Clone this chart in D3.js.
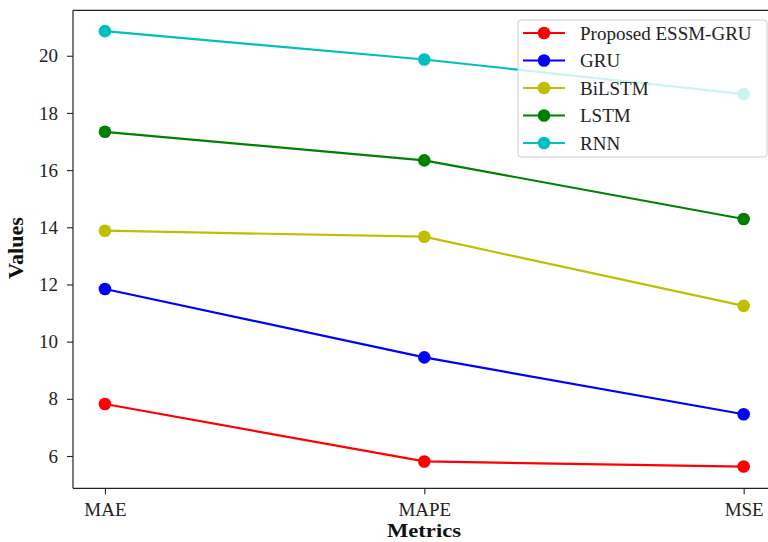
<!DOCTYPE html>
<html>
<head>
<meta charset="utf-8">
<script src="https://cdn.jsdelivr.net/npm/d3@7"></script>
<style>
  html, body { margin: 0; padding: 0; background: #fff; }
  svg { display: block; font-family: "Liberation Serif", "Times New Roman", serif; }
</style>
</head>
<body>
<svg id="chart" width="768" height="542"></svg>
<script>
// Error metrics per model
const metrics = ["MAE", "MAPE", "MSE"];
const seriesNames = ["Proposed ESSM-GRU", "GRU", "BiLSTM", "LSTM", "RNN"];
const proposedValues = [7.82, 5.81, 5.63];
const gruValues = [11.84, 9.45, 7.46];
const bilstmValues = [13.88, 13.67, 11.25];
const lstmValues = [17.34, 16.34, 14.29];
const rnnValues = [20.86, 19.87, 18.66];
const yTicks = [6, 8, 10, 12, 14, 16, 18, 20];
const colors = ["#ff0000", "#0000ff", "#bfbf00", "#008000", "#00bfbf"];

const series = [proposedValues, gruValues, bilstmValues, lstmValues, rnnValues]
  .map((vals, i) => ({ name: seriesNames[i], color: colors[i], values: vals }));

const svg = d3.select("#chart");
const plotLeft = 73, plotRight = 775.6, plotTop = 10.3, plotBottom = 488.3;

const x = d3.scaleLinear().domain([-0.1, 2.1]).range([plotLeft, plotRight]);
const y = d3.scaleLinear().domain([4.87, 21.59]).range([plotBottom, plotTop]);

// axes frame
const frame = svg.append("g").attr("fill", "none").attr("stroke", "#222").attr("stroke-width", 1.2);
frame.append("line").attr("x1", plotLeft).attr("x2", plotLeft).attr("y1", plotTop).attr("y2", plotBottom);
frame.append("line").attr("x1", plotLeft).attr("x2", plotRight).attr("y1", plotBottom).attr("y2", plotBottom);
frame.append("line").attr("x1", plotLeft).attr("x2", plotRight).attr("y1", plotTop).attr("y2", plotTop);
frame.append("line").attr("x1", plotRight).attr("x2", plotRight).attr("y1", plotTop).attr("y2", plotBottom);

// y axis
const yAxis = d3.axisLeft(y).tickValues(yTicks).tickSize(6).tickPadding(9).tickFormat(d3.format("d"));
const gy = svg.append("g").attr("transform", `translate(${plotLeft},0)`).call(yAxis);
gy.select(".domain").remove();
gy.selectAll(".tick line").attr("stroke", "#222").attr("stroke-width", 1.1);
gy.selectAll(".tick text").attr("font-size", 19).attr("fill", "#222")
  .attr("font-family", "Liberation Serif, serif");

// x axis
const xAxis = d3.axisBottom(x).tickValues([0, 1, 2]).tickSize(6).tickPadding(8)
  .tickFormat(i => metrics[i]);
const gx = svg.append("g").attr("transform", `translate(0,${plotBottom})`).call(xAxis);
gx.select(".domain").remove();
gx.selectAll(".tick line").attr("stroke", "#222").attr("stroke-width", 1.1);
gx.selectAll(".tick text").attr("font-size", 19).attr("fill", "#222")
  .attr("font-family", "Liberation Serif, serif");

// axis titles
svg.append("text").attr("x", 424).attr("y", 537).attr("text-anchor", "middle")
  .attr("font-size", 19).attr("font-weight", "bold").attr("fill", "#111")
  .attr("textLength", 74).attr("lengthAdjust", "spacingAndGlyphs").text("Metrics");
svg.append("text").attr("transform", "translate(23,248) rotate(-90)").attr("text-anchor", "middle")
  .attr("font-size", 20).attr("font-weight", "bold").attr("fill", "#111")
  .attr("textLength", 62).attr("lengthAdjust", "spacingAndGlyphs").text("Values");

// lines and markers
const line = d3.line().x((d, i) => x(i)).y(d => y(d));
const plot = svg.append("g");
series.forEach(s => {
  plot.append("path").datum(s.values).attr("d", line)
    .attr("fill", "none").attr("stroke", s.color).attr("stroke-width", 2.2);
  plot.selectAll(null).data(s.values).enter().append("circle")
    .attr("cx", (d, i) => x(i)).attr("cy", d => y(d)).attr("r", 6.3).attr("fill", s.color);
});

// legend
const lg = svg.append("g");
lg.append("rect").attr("x", 518).attr("y", 20).attr("width", 249).attr("height", 137)
  .attr("rx", 3).attr("fill", "#fff").attr("fill-opacity", 0.8)
  .attr("stroke", "#ccc").attr("stroke-width", 1);
series.forEach((s, i) => {
  const ly = 33 + i * 27.5;
  lg.append("line").attr("x1", 523).attr("x2", 565).attr("y1", ly).attr("y2", ly)
    .attr("stroke", s.color).attr("stroke-width", 2.2);
  lg.append("circle").attr("cx", 544).attr("cy", ly).attr("r", 6.3).attr("fill", s.color);
  lg.append("text").attr("x", 580).attr("y", ly).attr("dy", "0.35em")
    .attr("font-size", 19).attr("fill", "#222").text(s.name);
});
</script>
</body>
</html>
